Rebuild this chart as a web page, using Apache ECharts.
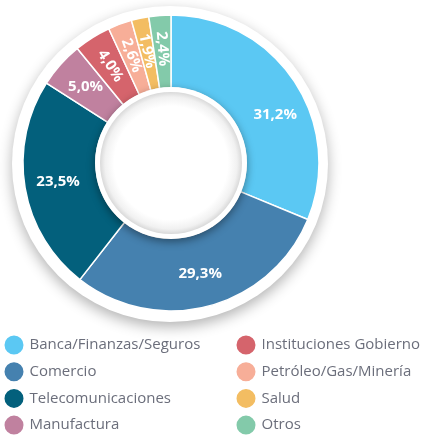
<!DOCTYPE html>
<html>
<head>
<meta charset="utf-8">
<script src="https://cdn.jsdelivr.net/npm/echarts@6/dist/echarts.min.js"></script>
<style>
  html, body { margin: 0; padding: 0; background: #ffffff; }
  #chart { width: 425px; height: 436px; }
</style>
</head>
<body>
<div id="chart"></div>
<script>
// Sector share (%) by industry
const sectors = [
  'Banca/Finanzas/Seguros',
  'Comercio',
  'Telecomunicaciones',
  'Manufactura',
  'Instituciones Gobierno',
  'Petróleo/Gas/Minería',
  'Salud',
  'Otros'
];
const shares = [31.2, 29.3, 23.5, 5.0, 4.0, 2.6, 1.9, 2.4];
const palette = ['#5bc8f3', '#4581af', '#03607c', '#c0819f', '#d5646c', '#f7ae98', '#f3bd62', '#83caaa'];

const cx = 171, cy = 163;
const fontFamily = '"Open Sans", "DejaVu Sans", sans-serif';

const fmt = v => v.toFixed(1).replace('.', ',') + '%';

const donutData = sectors.map((name, i) => {
  const item = { name: name, value: shares[i], itemStyle: { color: palette[i] } };
  if (shares[i] < 5) {
    item.label = { show: true, rotate: 'radial' };
  }
  if (i === 0) {
    item.label = { show: true, offset: [9, 15] };
  }
  return item;
});

const legendBase = {
  orient: 'vertical',
  top: 333.5,
  height: 120,
  padding: 0,
  icon: 'circle',
  itemWidth: 21,
  itemHeight: 21,
  itemGap: 3.7,
  selectedMode: false,
  textStyle: { color: '#6b6e7b', fontSize: 15, fontFamily: fontFamily }
};

const chart = echarts.init(document.getElementById('chart'), null, { renderer: 'canvas' });

chart.setOption({
  backgroundColor: '#ffffff',
  animation: false,
  legend: [
    Object.assign({}, legendBase, { left: 2.5, data: sectors.slice(0, 4) }),
    Object.assign({}, legendBase, { left: 234.5, data: sectors.slice(4) })
  ],
  series: [
    {
      // white plate behind the ring
      type: 'pie',
      silent: true,
      z: 1,
      center: [cx - 1, cy + 1],
      radius: [0, 158],
      label: { show: false },
      labelLine: { show: false },
      itemStyle: {
        color: '#ffffff',
        shadowBlur: 14,
        shadowOffsetY: 5,
        shadowColor: 'rgba(0,0,0,0.30)'
      },
      data: [{ value: 1, name: '_plate' }]
    },
    {
      type: 'pie',
      z: 2,
      center: [cx, cy],
      radius: [75, 148],
      startAngle: 90,
      clockwise: true,
      avoidLabelOverlap: false,
      labelLayout: { hideOverlap: false },
      itemStyle: { borderColor: '#ffffff', borderWidth: 1.5 },
      label: {
        show: true,
        position: 'inside',
        color: '#ffffff',
        fontSize: 15,
        fontWeight: 'bold',
        fontFamily: fontFamily,
        formatter: p => fmt(p.value)
      },
      labelLine: { show: false },
      emphasis: { disabled: true },
      data: donutData
    },
    {
      // centre disc casting a shadow onto the ring
      type: 'pie',
      silent: true,
      z: 3,
      center: [cx, cy],
      radius: [0, 76],
      label: { show: false },
      labelLine: { show: false },
      itemStyle: {
        color: '#ffffff',
        shadowBlur: 8,
        shadowOffsetY: 3,
        shadowColor: 'rgba(0,0,0,0.40)'
      },
      data: [{ value: 1, name: '_disc' }]
    },
    {
      // inner shading of the centre disc
      type: 'pie',
      silent: true,
      z: 4,
      center: [cx, cy],
      radius: [0, 71],
      label: { show: false },
      labelLine: { show: false },
      itemStyle: {
        color: {
          type: 'radial', x: 0.5, y: 0.5, r: 0.5,
          colorStops: [
            { offset: 0, color: '#ffffff' },
            { offset: 0.8, color: '#ffffff' },
            { offset: 0.93, color: '#f1f1f1' },
            { offset: 1, color: '#d9d9d9' }
          ]
        }
      },
      data: [{ value: 1, name: '_shade' }]
    }
  ]
});
</script>
</body>
</html>
